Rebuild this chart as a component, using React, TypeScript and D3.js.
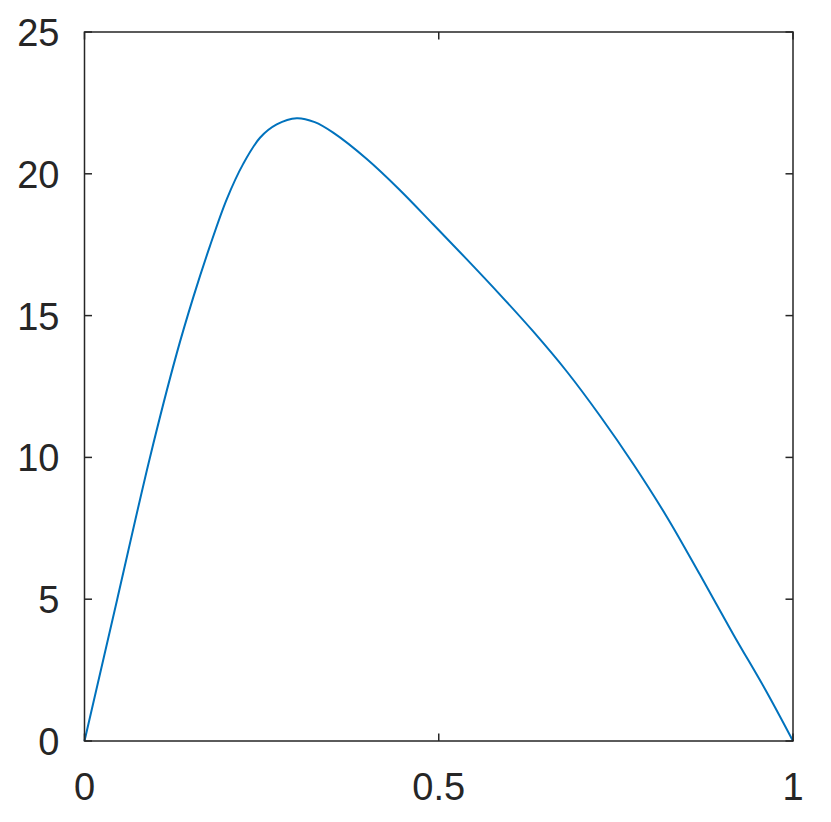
import React from "react";
import * as d3 from "d3";

// values
const xValues = [0, 0.0462, 0.0924, 0.13, 0.1536, 0.177, 0.2007, 0.224, 0.2477, 0.2713, 0.2995, 0.325, 0.351, 0.398, 0.445, 0.492, 0.539, 0.586, 0.633, 0.681, 0.728, 0.775, 0.822, 0.869, 0.916, 0.963, 1.0];
const yValues = [0, 5, 10, 13.65, 15.65, 17.45, 19.1, 20.35, 21.27, 21.74, 21.96, 21.82, 21.45, 20.53, 19.43, 18.22, 17.0, 15.75, 14.45, 13.02, 11.45, 9.75, 7.9, 5.85, 3.75, 1.72, 0];
const xTicks = [0, 0.5, 1];
const yTicks = [0, 5, 10, 15, 20, 25];
const xTickLabels = ["0", "0.5", "1"];
const yTickLabels = ["0", "5", "10", "15", "20", "25"];

const width = 831;
const height = 822;
const margin = { left: 84.5, right: 38, top: 32, bottom: 81 };
const axisColor = "#262626";
const font = "'Liberation Sans', Arial, Helvetica, sans-serif";

const App = () => {
  const x = d3.scaleLinear().domain([0, 1]).range([margin.left, width - margin.right]);
  const y = d3.scaleLinear().domain([0, 25]).range([height - margin.bottom, margin.top]);
  const points = xValues.map((v, i) => [v, yValues[i]] as [number, number]);
  const line = d3
    .line<[number, number]>()
    .x(d => x(d[0]))
    .y(d => y(d[1]))
    .curve(d3.curveCatmullRom.alpha(0.5));
  const tickLen = 7.5;
  const x0 = x(0), x1 = x(1), y0 = y(0), y1 = y(25);

  return (
    <svg width={width} height={height} style={{ position: "absolute", left: 0, top: 0 }}>
      <rect width={width} height={height} fill="white" />
      <path d={line(points) || ""} fill="none" stroke="#0072BD" strokeWidth={2} />
      {/* box */}
      <rect x={x0} y={y1} width={x1 - x0} height={y0 - y1} fill="none" stroke={axisColor} strokeWidth={1.5} />
      {xTicks.map((t, i) => (
        <g key={"x" + i}>
          <line x1={x(t)} x2={x(t)} y1={y0} y2={y0 - tickLen} stroke={axisColor} strokeWidth={1.5} />
          <line x1={x(t)} x2={x(t)} y1={y1} y2={y1 + tickLen} stroke={axisColor} strokeWidth={1.5} />
          <text x={x(t)} y={y0 + 59} textAnchor="middle" fontSize={38} fontFamily={font} fill={axisColor}>
            {xTickLabels[i]}
          </text>
        </g>
      ))}
      {yTicks.map((t, i) => (
        <g key={"y" + i}>
          <line x1={x0} x2={x0 + tickLen} y1={y(t)} y2={y(t)} stroke={axisColor} strokeWidth={1.5} />
          <line x1={x1} x2={x1 - tickLen} y1={y(t)} y2={y(t)} stroke={axisColor} strokeWidth={1.5} />
          <text x={x0 - 25} y={y(t) + 14} textAnchor="end" fontSize={38} fontFamily={font} fill={axisColor}>
            {yTickLabels[i]}
          </text>
        </g>
      ))}
    </svg>
  );
};

export default App;
